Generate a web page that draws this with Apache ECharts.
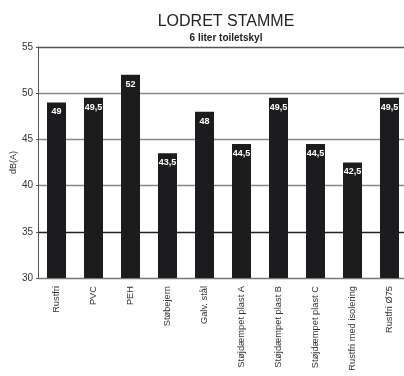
<!DOCTYPE html>
<html>
<head>
<meta charset="utf-8">
<script src="https://cdn.jsdelivr.net/npm/echarts@6/dist/echarts.min.js"></script>
<style>
  html, body { margin: 0; padding: 0; background: #fff; }
  #chart { width: 404px; height: 376px; }
</style>
</head>
<body>
<div id="chart"></div>
<script>
// Pipe materials measured on a vertical stack, 6 litre flush
const categories = [
  'Rustfri', 'PVC', 'PEH', 'Støbejern', 'Galv. stål',
  'Støjdæmpet plast A', 'Støjdæmpet plast B', 'Støjdæmpet plast C',
  'Rustfri med isolering', 'Rustfri Ø75'
];
const noiseLevels = [49, 49.5, 52, 43.5, 48, 44.5, 49.5, 44.5, 42.5, 49.5];
const yTicks = [30, 35, 40, 45, 50, 55];

const chart = echarts.init(document.getElementById('chart'));
chart.setOption({
  animation: false,
  title: [
    {
      text: 'LODRET STAMME',
      left: 221, top: 9, textAlign: 'center',
      textStyle: { fontFamily: 'Liberation Sans', fontSize: 16, fontWeight: 'normal', color: '#222' }
    },
    {
      text: '6 liter toiletskyl',
      left: 221, top: 28, textAlign: 'center',
      textStyle: { fontFamily: 'Liberation Sans', fontSize: 10, fontWeight: 'bold', color: '#222' }
    }
  ],
  grid: { left: 38, right: -4, top: 47, bottom: 98, containLabel: false, outerBoundsMode: 'none' },
  xAxis: {
    type: 'category',
    data: categories,
    axisLine: { lineStyle: { color: '#777', width: 1 } },
    axisTick: { show: false },
    axisLabel: {
      rotate: 90, margin: 8, interval: 0,
      fontFamily: 'Liberation Sans', fontSize: 9.3, color: '#333'
    }
  },
  yAxis: {
    type: 'value',
    min: yTicks[0], max: yTicks[yTicks.length - 1], interval: 5,
    name: 'dB(A)', nameLocation: 'middle', nameGap: 20, nameRotate: 90,
    nameMoveOverlap: false,
    nameTextStyle: { fontFamily: 'Liberation Sans', fontSize: 9, color: '#333' },
    axisLine: { show: true, lineStyle: { color: '#555', width: 1 } },
    axisTick: { show: true, length: 2, lineStyle: { color: '#555' } },
    axisLabel: { margin: 5, fontFamily: 'Liberation Sans', fontSize: 10, color: '#333' },
    splitLine: {
      show: true,
      lineStyle: { color: ['#777', '#222', '#888', '#888', '#888', '#555'], width: 1.3 }
    }
  },
  series: [{
    type: 'bar',
    data: noiseLevels,
    barWidth: 19,
    itemStyle: { color: '#1c1c1f' },
    label: {
      show: true, position: 'insideTop', distance: 5,
      formatter: p => String(p.value).replace('.', ','),
      fontFamily: 'Liberation Sans Narrow, Liberation Sans', fontSize: 9, fontWeight: 'bold', color: '#fff'
    }
  }]
});
</script>
</body>
</html>
